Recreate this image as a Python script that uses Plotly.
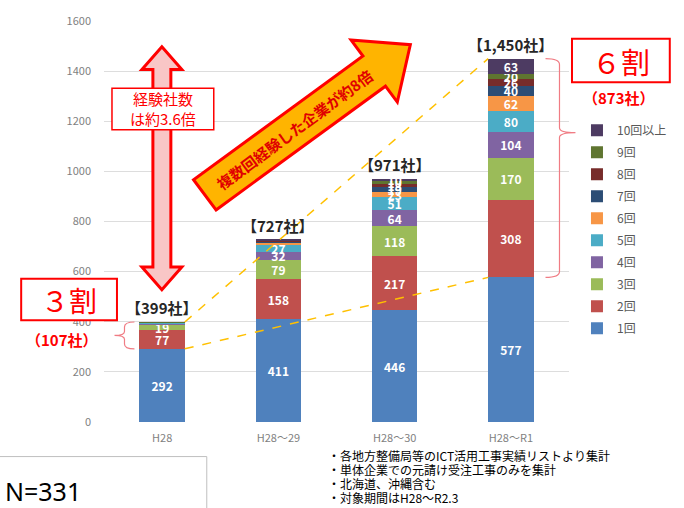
import math
import plotly.graph_objects as go

# ---- data -------------------------------------------------------------
periods = ["H28", "H28～29", "H28～30", "H28～R1"]
series_names = ["1回", "2回", "3回", "4回", "5回", "6回", "7回", "8回", "9回", "10回以上"]
cnt_1 = [292, 411, 446, 577]
cnt_2 = [77, 158, 217, 308]
cnt_3 = [19, 79, 118, 170]
cnt_4 = [5, 32, 64, 104]
cnt_5 = [3, 27, 51, 80]
cnt_6 = [1, 8, 23, 62]
cnt_7 = [1, 5, 19, 40]
cnt_8 = [0, 3, 13, 26]
cnt_9 = [1, 2, 10, 20]
cnt_10 = [0, 2, 10, 63]
series_values = [cnt_1, cnt_2, cnt_3, cnt_4, cnt_5, cnt_6, cnt_7, cnt_8, cnt_9, cnt_10]
colors = ["#4F81BD", "#C0504D", "#9BBB59", "#8064A2", "#4BACC6",
          "#F79646", "#2C4D75", "#772C2A", "#5F7530", "#4D3B62"]
y_ticks = [0, 200, 400, 600, 800, 1000, 1200, 1400, 1600]
notes = ["・各地方整備局等のICT活用工事実績リストより集計",
         "・単体企業での元請け受注工事のみを集計",
         "・北海道、沖縄含む",
         "・対象期間はH28～R2.3"]
sample_size = "N=331"

totals = [sum(col) for col in zip(*series_values)]
repeat = [t - one for t, one in zip(totals, cnt_1)]

# ---- layout geometry --------------------------------------------------
W, H = 684, 508
L, R, T, B = 104, 570, 16, 422
YMAX = 1600
JP = "Noto Sans CJK JP"
BAR_W = 0.39


def px(x, y):
    """Pixel position -> paper coordinates."""
    return (x - L) / (R - L), (B - y) / (B - T)


def vy(v):
    """Value on the y axis -> pixel row."""
    return B - v * (B - T) / YMAX


def vx(x):
    """Category position -> pixel column."""
    return L + (x + 0.5) * (R - L) / len(periods)


def path(points, closed=True):
    pts = [px(x, y) for x, y in points]
    s = "M " + " L ".join(f"{a:.5f},{b:.5f}" for a, b in pts)
    return s + (" Z" if closed else "")


def curve(cmds):
    out = []
    for c in cmds:
        op, coords = c[0], c[1:]
        conv = []
        for i in range(0, len(coords), 2):
            a, b = px(coords[i], coords[i + 1])
            conv.append(f"{a:.5f},{b:.5f}")
        out.append(op + " " + " ".join(conv))
    return " ".join(out)


def label(x, y, text, size, color, bold=False, anchor="center", family=JP, angle=0):
    ax, ay = px(x, y)
    return dict(x=ax, y=ay, xref="paper", yref="paper", showarrow=False,
                xanchor=anchor, yanchor="middle", text=text, textangle=angle,
                font=dict(family=family, size=size, color=color,
                          weight="bold" if bold else "normal"))


fig = go.Figure()
xs = list(range(len(periods)))

for i, (name, vals, col) in enumerate(zip(series_names, series_values, colors)):
    fig.add_trace(go.Bar(
        x=xs, y=vals, width=BAR_W, name=name, marker_color=col,
        marker_line_width=0, legendgroup=name, legendrank=100 - i,
        text=[str(v) if v >= 10 else "" for v in vals],
        textposition="inside", insidetextanchor="middle", constraintext="none",
        textangle=0, cliponaxis=False,
        textfont=dict(color="white", size=12, family=JP, weight="bold"),
        hoverinfo="skip",
    ))

# dashed trend lines between first and last bars
for ys in (totals, cnt_1):
    fig.add_trace(go.Scatter(
        x=[xs[0] + BAR_W / 2, xs[-1] - BAR_W / 2], y=[ys[0], ys[-1]],
        mode="lines", line=dict(color="#FFC000", width=1.5, dash="dash"),
        showlegend=False, hoverinfo="skip",
    ))

shapes = []
annotations = []

# total labels above each bar
for x, t in zip(xs, totals):
    annotations.append(dict(
        x=x, y=t, xref="x", yref="y", text=f"【{t:,}社】", showarrow=False,
        xanchor="center", yanchor="bottom", yshift=2,
        font=dict(family=JP, size=15, color="#262626", weight="bold"),
    ))

# vertical double arrow
cx, top, bot = 162, 42, 288
hh, hw, sw = 23, 20, 9
shapes.append(dict(
    type="path", xref="paper", yref="paper", layer="above",
    path=path([(cx, top), (cx + hw, top + hh), (cx + sw, top + hh), (cx + sw, bot - hh),
               (cx + hw, bot - hh), (cx, bot), (cx - hw, bot - hh), (cx - sw, bot - hh),
               (cx - sw, top + hh), (cx - hw, top + hh)]),
    fillcolor="#F9C6C6", line=dict(color="#FF0000", width=3),
))
x0, y0 = px(112, 126)
x1, y1 = px(214, 84)
shapes.append(dict(type="rect", xref="paper", yref="paper", layer="above",
                   x0=x0, y0=y0, x1=x1, y1=y1, fillcolor="white",
                   line=dict(color="#FF0000", width=1.5)))
annotations.append(label(163, 105, "経験社数<br>は約3.6倍", 15, "#FF0000"))

# diagonal arrow
tail = (205, 192)
tip = (411, 40)
dx, dy = tip[0] - tail[0], tip[1] - tail[1]
ln = math.hypot(dx, dy)
ux, uy = dx / ln, dy / ln
nx, ny = -uy, ux
shaft, head_w, head_l = 19, 39, 45
hb = (tip[0] - ux * head_l, tip[1] - uy * head_l)
pts = [
    (tail[0] + nx * shaft, tail[1] + ny * shaft),
    (hb[0] + nx * shaft, hb[1] + ny * shaft),
    (hb[0] + nx * head_w, hb[1] + ny * head_w),
    tip,
    (hb[0] - nx * head_w, hb[1] - ny * head_w),
    (hb[0] - nx * shaft, hb[1] - ny * shaft),
    (tail[0] - nx * shaft, tail[1] - ny * shaft),
]
shapes.append(dict(type="path", xref="paper", yref="paper", layer="above",
                   path=path(pts), fillcolor="#FFB400",
                   line=dict(color="#FF0000", width=3)))
along = (ln - head_l) / 2 + 6
mid = (tail[0] + ux * along, tail[1] + uy * along)
annotations.append(label(mid[0], mid[1], "複数回経験した企業が約8倍", 15, "#E00000",
                         bold=True, angle=math.degrees(math.atan2(dy, dx))))

# ３割 box and left brace
x0, y0 = px(21, 319)
x1, y1 = px(117, 277)
shapes.append(dict(type="rect", xref="paper", yref="paper", layer="above",
                   x0=x0, y0=y0, x1=x1, y1=y1, fillcolor="white",
                   line=dict(color="#FF0000", width=2)))
annotations.append(label(69, 298, "３割", 28, "#FF0000"))
annotations.append(label(62, 338, f"（{repeat[0]}社）", 15, "#FF0000", bold=True))
bx = vx(xs[0]) - BAR_W / 2 * (R - L) / len(periods) - 5
ya, yb = vy(totals[0]), vy(cnt_1[0])
ym = (ya + yb) / 2
shapes.append(dict(type="path", xref="paper", yref="paper", layer="above",
                   path=curve([("M", bx, ya), ("Q", bx - 10, ya, bx - 10, ya + 5),
                               ("L", bx - 10, ym - 4), ("Q", bx - 10, ym, bx - 20, ym),
                               ("Q", bx - 10, ym, bx - 10, ym + 4),
                               ("L", bx - 10, yb - 5), ("Q", bx - 10, yb, bx, yb)]),
                   line=dict(color="#F07C84", width=1.2)))

# ６割 box and right brace
x0, y0 = px(573, 78)
x1, y1 = px(671, 34)
shapes.append(dict(type="rect", xref="paper", yref="paper", layer="above",
                   x0=x0, y0=y0, x1=x1, y1=y1, fillcolor="white",
                   line=dict(color="#FF0000", width=2)))
annotations.append(label(622, 56, "６割", 29, "#FF0000"))
annotations.append(label(620, 93, f"（{repeat[-1]}社）", 15, "#FF0000", bold=True))
rx = vx(xs[-1]) + BAR_W / 2 * (R - L) / len(periods) + 12
ya, yb = vy(totals[-1]), vy(cnt_1[-1])
ym = 129
shapes.append(dict(type="path", xref="paper", yref="paper", layer="above",
                   path=curve([("M", rx, ya), ("Q", rx + 14, ya, rx + 14, ya + 6),
                               ("L", rx + 14, ym - 5), ("Q", rx + 14, ym, rx + 30, ym),
                               ("Q", rx + 14, ym, rx + 14, ym + 5),
                               ("L", rx + 14, yb - 6), ("Q", rx + 14, yb, rx, yb)]),
                   line=dict(color="#F07C84", width=1.2)))

# sample size box
x0, y0 = px(-2, 512)
x1, y1 = px(207, 457)
shapes.append(dict(type="rect", xref="paper", yref="paper", layer="above",
                   x0=x0, y0=y0, x1=x1, y1=y1, fillcolor="rgba(0,0,0,0)",
                   line=dict(color="#BFBFBF", width=1)))
annotations.append(label(3, 492, sample_size, 25, "black", anchor="left", family="Noto Sans"))

# footnotes
for i, line in enumerate(notes):
    annotations.append(label(326, 456 + i * 14, line, 12, "black", anchor="left"))

fig.update_layout(
    width=W, height=H,
    margin=dict(l=L, r=W - R, t=T, b=H - B, pad=0),
    paper_bgcolor="white", plot_bgcolor="white",
    barmode="stack",
    showlegend=True,
    legend=dict(
        x=px(578, 0)[0], y=px(0, 112)[1], xanchor="left", yanchor="top",
        traceorder="grouped", tracegroupgap=3, itemwidth=30,
        font=dict(family=JP, size=12, color="#595959"),
        bgcolor="rgba(0,0,0,0)",
    ),
    xaxis=dict(
        range=[-0.5, len(periods) - 0.5], tickvals=xs, ticktext=periods,
        showgrid=False, zeroline=False, showline=False, ticks="",
        tickfont=dict(family=JP, size=11, color="#7F7F7F"), ticklabelstandoff=8,
    ),
    yaxis=dict(
        range=[0, YMAX], tickvals=y_ticks, showgrid=True, gridcolor="#DDDDDD",
        gridwidth=1, zeroline=False, showline=False, ticks="",
        tickfont=dict(family=JP, size=11, color="#7F7F7F"), ticklabelstandoff=12,
    ),
    shapes=shapes, annotations=annotations,
    font=dict(family=JP),
)

fig.write_html("out.html")
